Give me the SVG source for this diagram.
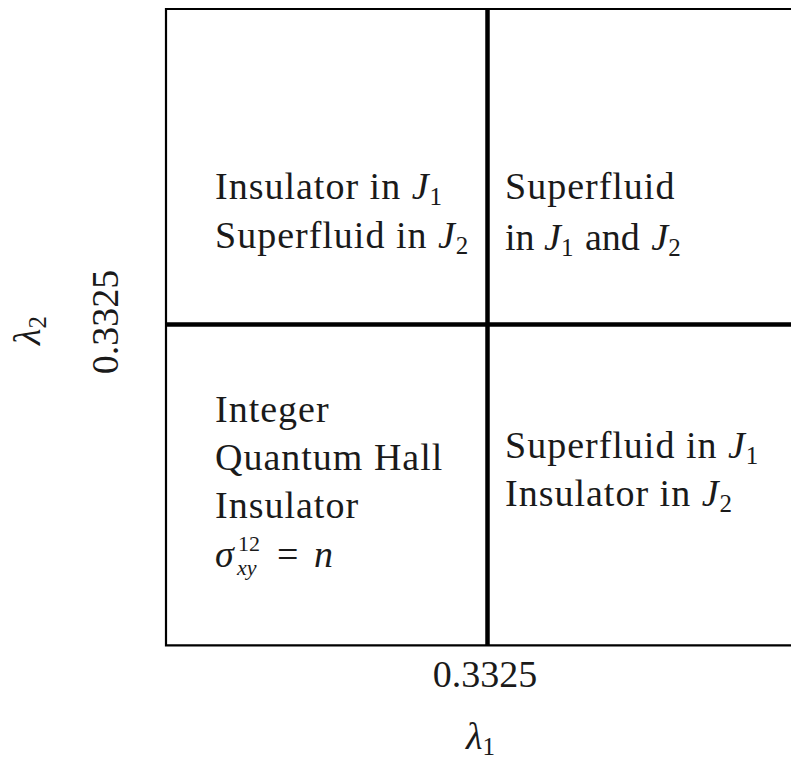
<svg xmlns="http://www.w3.org/2000/svg" width="791" height="759" viewBox="0 0 791 759">
<style>
text{font-family:"Liberation Serif","Times New Roman",serif;font-size:38px;fill:#1a1a1a}
.t{letter-spacing:1px}
.i{font-style:italic}
.s{font-size:25px;letter-spacing:0}
.ss{font-size:22px}
.frame{fill:none;stroke:#000;stroke-width:2.2}
.div{stroke:#000;stroke-width:4.5}
</style>
<rect width="791" height="759" fill="#fff"/>
<g id="connectors">
<path class="frame" d="M800,9 H166 V645.3 H800"/>
<line class="div" x1="487.5" y1="9" x2="487.5" y2="646"/>
<line class="div" x1="166" y1="324.5" x2="791" y2="324.5"/>
</g>
<g id="region-top-left">
<text class="t" x="215" y="199">Insulator in <tspan class="i">J</tspan><tspan class="s" dy="6">1</tspan></text>
<text class="t" x="215" y="248">Superfluid in <tspan class="i">J</tspan><tspan class="s" dy="6">2</tspan></text>
</g>
<g id="region-top-right">
<text class="t" x="505" y="199">Superfluid</text>
<text x="505" y="250">in <tspan class="i">J</tspan><tspan class="s" dy="6">1</tspan><tspan dy="-6" dx="2"> and </tspan><tspan class="i" dx="2">J</tspan><tspan class="s" dy="6">2</tspan></text>
</g>
<g id="region-bottom-left">
<text class="t" x="215" y="422">Integer</text>
<text class="t" x="215" y="470">Quantum Hall</text>
<text class="t" x="215" y="518">Insulator</text>
<text x="215" y="567" class="i">σ</text>
<text x="238" y="551" class="ss">12</text>
<text x="237" y="575" class="ss i">xy</text>
<text x="277" y="567" font-size="44">=</text>
<text x="314" y="567" class="i">n</text>
</g>
<g id="region-bottom-right">
<text class="t" x="505" y="458">Superfluid in <tspan class="i">J</tspan><tspan class="s" dy="6">1</tspan></text>
<text class="t" x="505" y="506">Insulator in <tspan class="i">J</tspan><tspan class="s" dy="6">2</tspan></text>
</g>
<g id="axis-x">
<text x="485" y="687" text-anchor="middle">0.3325</text>
<text x="466" y="749" class="i">λ<tspan class="s" dy="6" font-style="normal">1</tspan></text>
</g>
<g id="axis-y">
<text transform="translate(118,322) rotate(-90)" text-anchor="middle">0.3325</text>
<text transform="translate(40,345) rotate(-90)" class="i">λ<tspan class="s" dy="6" font-style="normal">2</tspan></text>
</g>
</svg>
